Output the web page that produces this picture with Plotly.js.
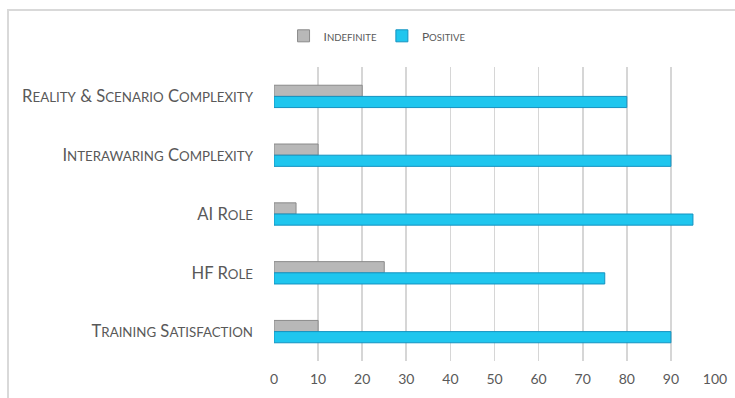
<!DOCTYPE html>
<html>
<head>
<meta charset="utf-8">
<script src="https://cdn.plot.ly/plotly-3.0.1.min.js"></script>
<style>
  html, body { margin: 0; padding: 0; background: #fff; }
  #wrap { position: relative; width: 735px; height: 398px; }
  #chart { width: 735px; height: 398px; }
  #frame {
    position: absolute; left: 7px; top: 9px; right: 0; bottom: -4px;
    border-left: 2px solid #d9d9d9; border-top: 2px solid #d9d9d9;
    pointer-events: none;
  }
</style>
</head>
<body>
<div id="wrap">
  <div id="chart"></div>
  <div id="frame"></div>
</div>
<script>
// Survey items, listed top to bottom
const categories = [
  'Reality & Scenario Complexity',
  'Interawaring Complexity',
  'AI Role',
  'HF Role',
  'Training Satisfaction'
];
const seriesNames = ['Indefinite', 'Positive'];
const indefiniteValues = [20, 10, 5, 25, 10];
const positiveValues = [80, 90, 95, 75, 90];
const xTicks = [0, 10, 20, 30, 40, 50, 60, 70, 80, 90, 100];

const textColor = '#595959';
const fontFamily = 'Lato, "Open Sans", sans-serif';

// Small-caps label markup: lowercase runs become smaller capitals.
function smallCaps(str, smallSize) {
  return str.replace(/[a-z]+/g, m =>
    '<span style="font-size:' + smallSize + 'px">' + m.toUpperCase() + '</span>');
}

const catLabels = categories.map(c => smallCaps(c, 13.3));

const traces = [
  {
    type: 'bar',
    orientation: 'h',
    name: smallCaps(seriesNames[0], 9.6),
    y: categories,
    x: indefiniteValues,
    marker: { color: '#b8b8b8', line: { color: '#8a8a8a', width: 1 } },
    hoverinfo: 'x+y'
  },
  {
    type: 'bar',
    orientation: 'h',
    name: smallCaps(seriesNames[1], 9.6),
    y: categories,
    x: positiveValues,
    marker: { color: '#1fc6ee', line: { color: '#1492c0', width: 1 } },
    hoverinfo: 'x+y'
  }
];

const layout = {
  width: 735,
  height: 398,
  margin: { l: 274, r: 20, t: 67, b: 37 },
  paper_bgcolor: 'rgba(0,0,0,0)',
  plot_bgcolor: 'rgba(0,0,0,0)',
  barmode: 'group',
  bargap: 0.62,
  bargroupgap: 0,
  font: { family: fontFamily, color: textColor },
  showlegend: true,
  legend: {
    orientation: 'h',
    xref: 'container', yref: 'container',
    x: 0.513, xanchor: 'center',
    y: 0.91, yanchor: 'middle',
    font: { size: 12, color: textColor, family: fontFamily },
    itemwidth: 30
  },
  xaxis: {
    range: [0, 100],
    tickvals: xTicks,
    ticktext: xTicks.map(String),
    showgrid: true,
    gridcolor: '#d6d6d6',
    gridwidth: 1.6,
    zeroline: false,
    showline: false,
    ticks: '',
    ticklabelstandoff: 8,
    tickfont: { size: 14, color: textColor, family: fontFamily },
    fixedrange: true
  },
  yaxis: {
    type: 'category',
    autorange: 'reversed',
    tickvals: categories,
    ticktext: catLabels,
    showgrid: false,
    zeroline: false,
    showline: false,
    ticks: '',
    ticklabelstandoff: 20,
    tickfont: { size: 16.6, color: textColor, family: fontFamily },
    fixedrange: true
  }
};

Plotly.newPlot('chart', traces, layout, { displayModeBar: false, staticPlot: true });
</script>
</body>
</html>
